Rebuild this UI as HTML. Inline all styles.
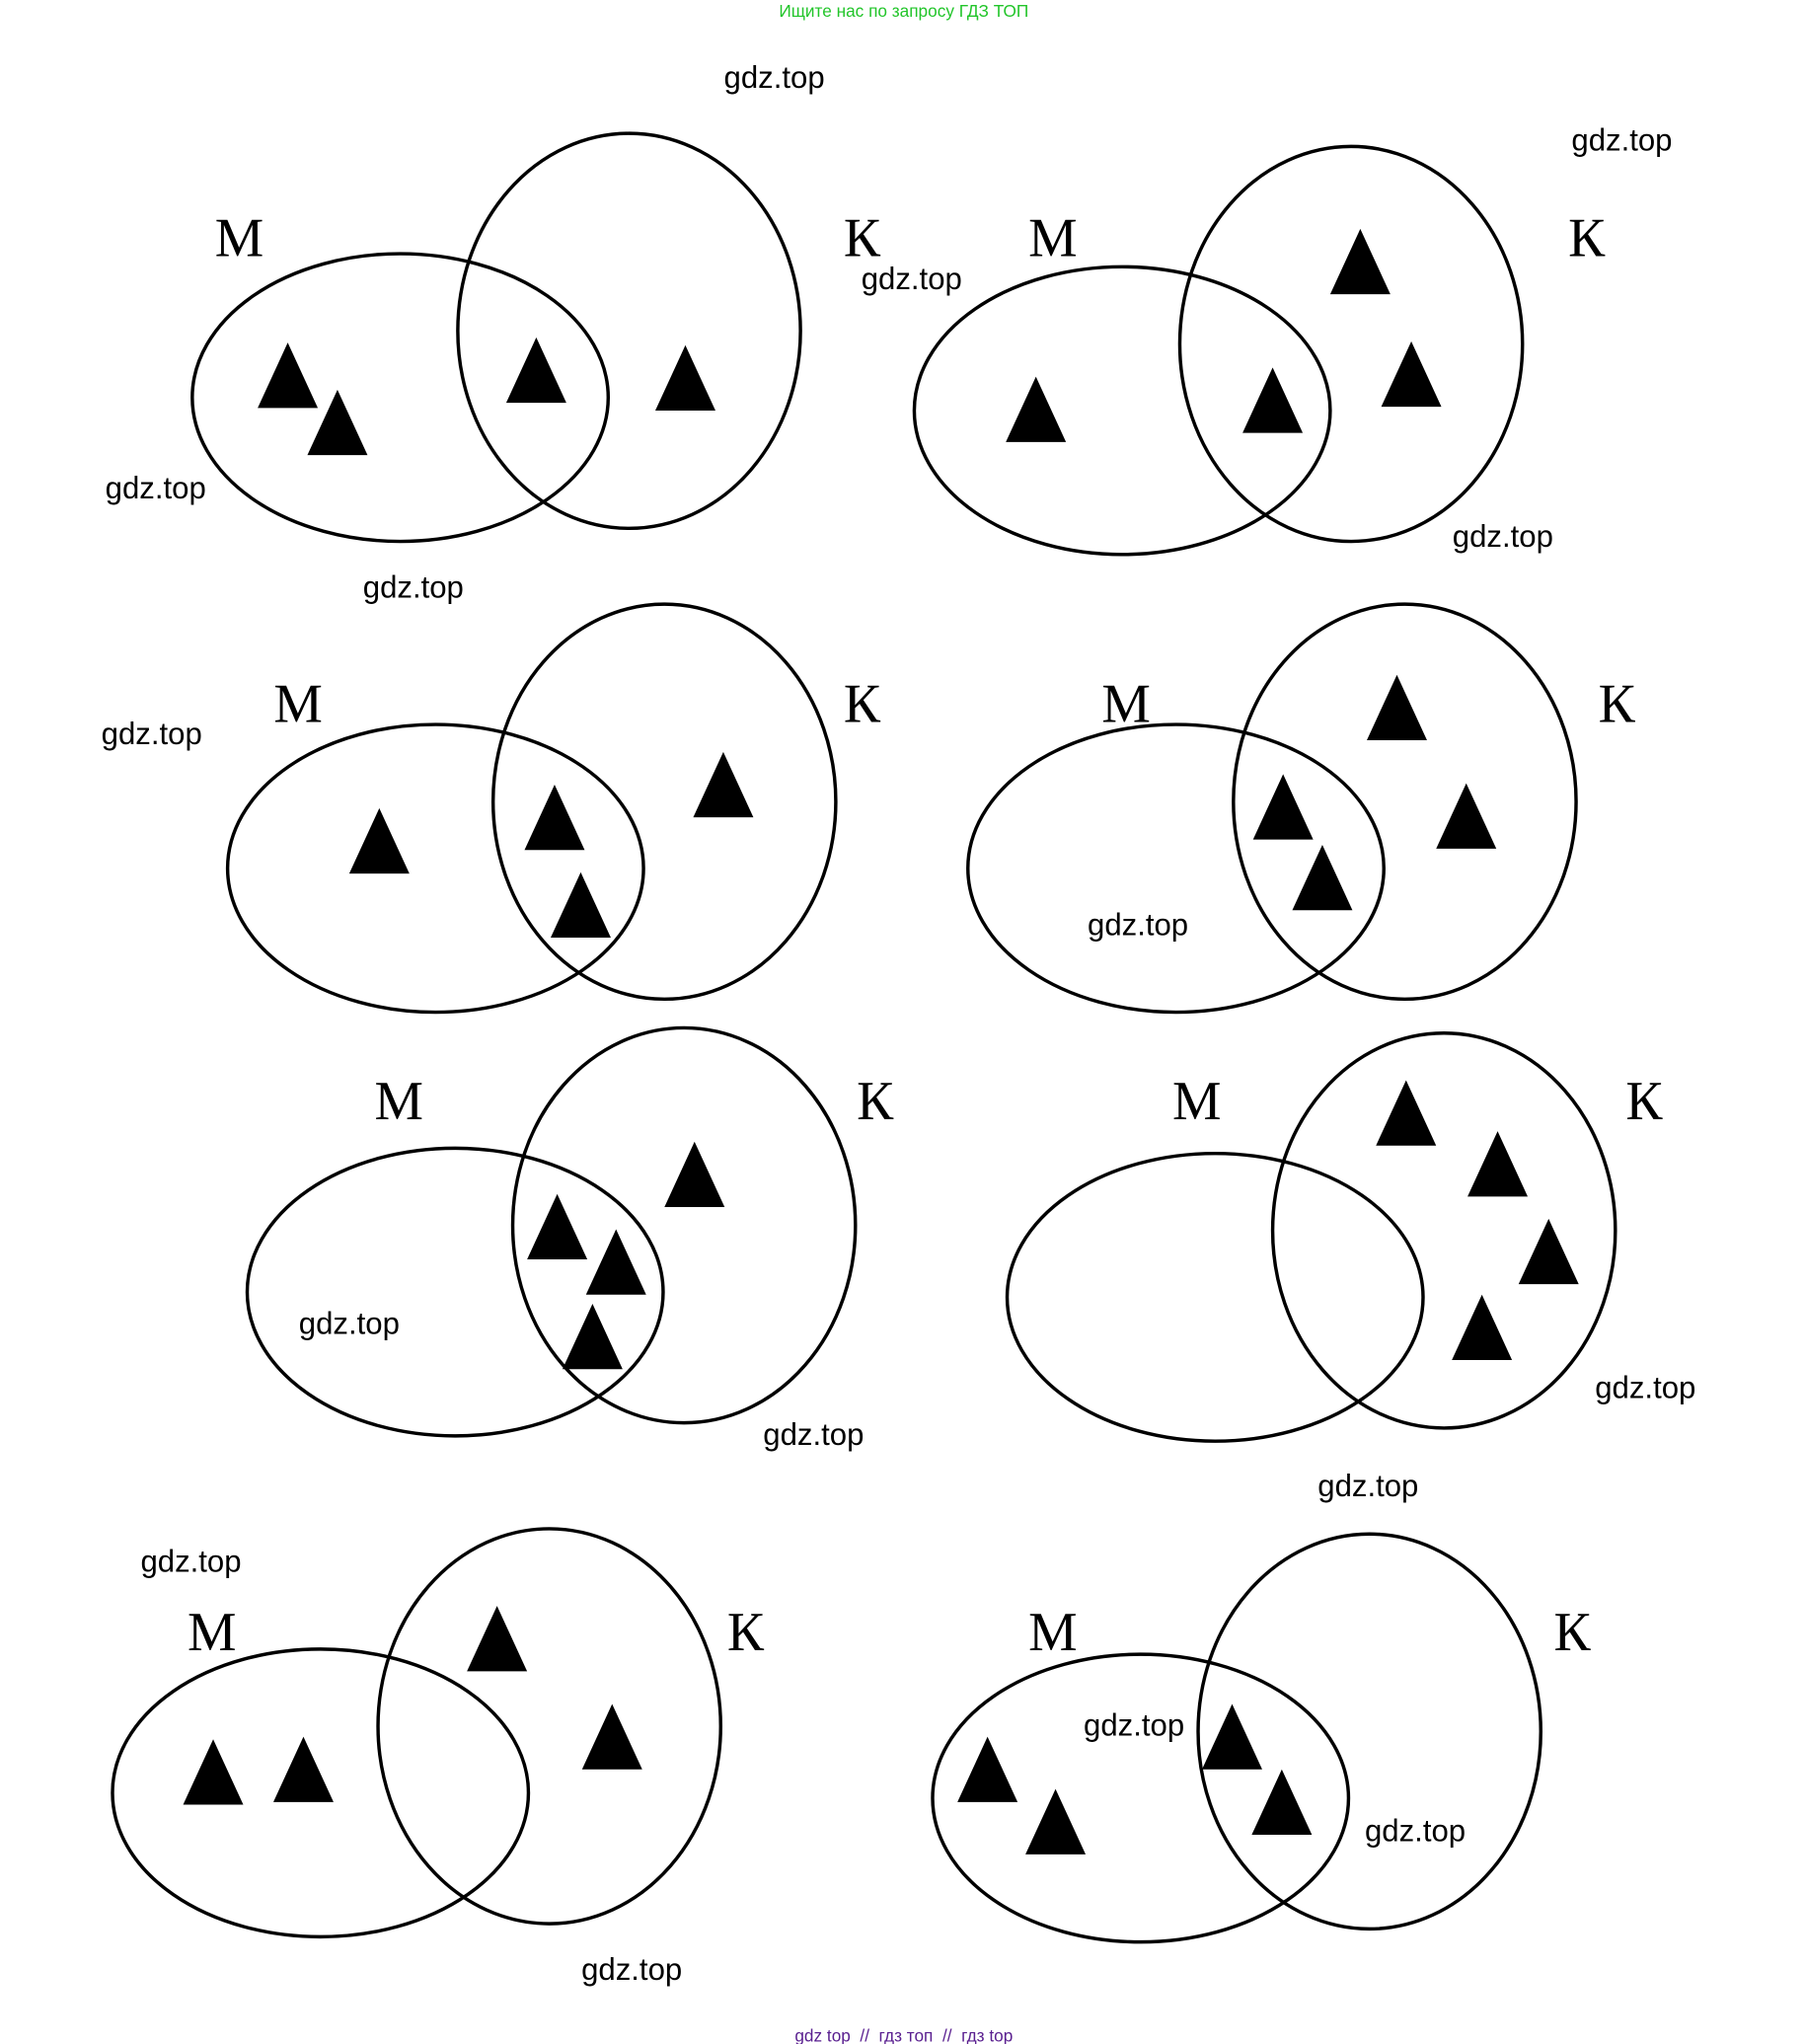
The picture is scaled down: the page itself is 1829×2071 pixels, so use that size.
<!DOCTYPE html>
<html><head><meta charset="utf-8"><style>html,body{margin:0;padding:0;background:#fff}svg{display:block}</style></head>
<body>
<svg width="1829" height="2071" viewBox="0 0 1380 1563" preserveAspectRatio="none" xmlns="http://www.w3.org/2000/svg">
<defs>
<path id="t" d="M0,-25 L23,25 L-23,25 Z" fill="#000"/>
</defs>
<g fill="none" stroke="#000" stroke-width="2.6">
<ellipse cx="306" cy="304" rx="159" ry="110"/><ellipse cx="481" cy="253" rx="131" ry="151"/>
<ellipse cx="858" cy="314" rx="159" ry="110"/><ellipse cx="1033" cy="263" rx="131" ry="151"/>
<ellipse cx="333" cy="664" rx="159" ry="110"/><ellipse cx="508" cy="613" rx="131" ry="151"/>
<ellipse cx="899" cy="664" rx="159" ry="110"/><ellipse cx="1074" cy="613" rx="131" ry="151"/>
<ellipse cx="348" cy="988" rx="159" ry="110"/><ellipse cx="523" cy="937" rx="131" ry="151"/>
<ellipse cx="929" cy="992" rx="159" ry="110"/><ellipse cx="1104" cy="941" rx="131" ry="151"/>
<ellipse cx="245" cy="1371" rx="159" ry="110"/><ellipse cx="420" cy="1320" rx="131" ry="151"/>
<ellipse cx="872" cy="1375" rx="159" ry="110"/><ellipse cx="1047" cy="1324" rx="131" ry="151"/>
</g>
<g>
<use href="#t" x="220" y="287"/><use href="#t" x="258" y="323"/><use href="#t" x="410" y="283"/><use href="#t" x="524" y="289"/>
<use href="#t" x="1040" y="200"/><use href="#t" x="792" y="313"/><use href="#t" x="973" y="306"/><use href="#t" x="1079" y="286"/>
<use href="#t" x="290" y="643"/><use href="#t" x="424" y="625"/><use href="#t" x="444" y="692"/><use href="#t" x="553" y="600"/>
<use href="#t" x="1068" y="541"/><use href="#t" x="981" y="617"/><use href="#t" x="1011" y="671"/><use href="#t" x="1121" y="624"/>
<use href="#t" x="531" y="898"/><use href="#t" x="426" y="938"/><use href="#t" x="471" y="965"/><use href="#t" x="453" y="1022"/>
<use href="#t" x="1075" y="851"/><use href="#t" x="1145" y="890"/><use href="#t" x="1184" y="957"/><use href="#t" x="1133" y="1015"/>
<use href="#t" x="380" y="1253"/><use href="#t" x="163" y="1355"/><use href="#t" x="232" y="1353"/><use href="#t" x="468" y="1328"/>
<use href="#t" x="942" y="1328"/><use href="#t" x="755" y="1353"/><use href="#t" x="807" y="1393"/><use href="#t" x="980" y="1378"/>
</g>
<g font-family="Liberation Serif, DejaVu Serif, serif" font-size="42" text-anchor="middle" fill="#000">
<text x="183" y="196">М</text><text x="659" y="196">К</text>
<text x="805" y="196">М</text><text x="1213" y="196">К</text>
<text x="228" y="552">М</text><text x="659" y="552">К</text>
<text x="861" y="552">М</text><text x="1236" y="552">К</text>
<text x="305" y="856">М</text><text x="669" y="856">К</text>
<text x="915" y="856">М</text><text x="1257" y="856">К</text>
<text x="162" y="1262">М</text><text x="570" y="1262">К</text>
<text x="805" y="1262">М</text><text x="1202" y="1262">К</text>
</g>
<g font-family="Liberation Sans, DejaVu Sans, sans-serif" font-size="23.5" text-anchor="middle" fill="#000">
<text x="592" y="67">gdz.top</text><text x="119" y="381">gdz.top</text><text x="316" y="457">gdz.top</text>
<text x="697" y="221">gdz.top</text><text x="1240" y="115">gdz.top</text><text x="1149" y="418">gdz.top</text>
<text x="116" y="569">gdz.top</text><text x="870" y="715">gdz.top</text>
<text x="267" y="1020">gdz.top</text><text x="622" y="1105">gdz.top</text>
<text x="1258" y="1069">gdz.top</text><text x="1046" y="1144">gdz.top</text>
<text x="146" y="1202">gdz.top</text><text x="483" y="1514">gdz.top</text>
<text x="867" y="1327">gdz.top</text><text x="1082" y="1408">gdz.top</text>
</g>
<text x="691" y="13" font-family="Liberation Sans, DejaVu Sans, sans-serif" font-size="13" text-anchor="middle" fill="#22c52a">Ищите нас по запросу ГДЗ ТОП</text>
<text x="691" y="1561" font-family="Liberation Sans, DejaVu Sans, sans-serif" font-size="13" text-anchor="middle" fill="#5a2090" xml:space="preserve">gdz top  //  гдз топ  //  гдз top</text>
</svg>
</body></html>
